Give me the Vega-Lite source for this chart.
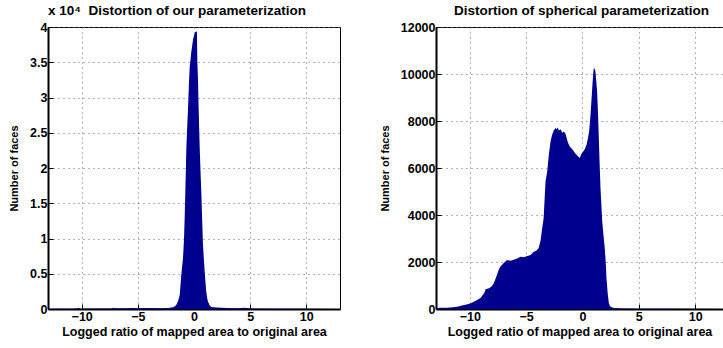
{
  "$schema": "https://vega.github.io/schema/vega-lite/v6.json",
  "background": "white",
  "padding": {"left": 8, "top": 3, "right": 0, "bottom": 4},
  "datasets": {
    "ours": [
      {"x": -13, "count": 20}, {"x": -12, "count": 30}, {"x": -11, "count": 40}, {"x": -10.4, "count": 60},
      {"x": -10.3, "count": 170}, {"x": -10.1, "count": 50}, {"x": -9, "count": 80}, {"x": -8, "count": 60},
      {"x": -7.3, "count": 80}, {"x": -7.2, "count": 170}, {"x": -7, "count": 100}, {"x": -6, "count": 90},
      {"x": -5.5, "count": 140}, {"x": -5, "count": 90}, {"x": -4, "count": 130}, {"x": -3, "count": 110},
      {"x": -2.3, "count": 150}, {"x": -2, "count": 200}, {"x": -1.86, "count": 250}, {"x": -1.7, "count": 400},
      {"x": -1.57, "count": 600}, {"x": -1.4, "count": 1200}, {"x": -1.27, "count": 2030}, {"x": -1.13, "count": 4860},
      {"x": -0.98, "count": 7230}, {"x": -0.9, "count": 9500}, {"x": -0.83, "count": 12900}, {"x": -0.75, "count": 18000},
      {"x": -0.68, "count": 22800}, {"x": -0.6, "count": 26000}, {"x": -0.53, "count": 28500}, {"x": -0.45, "count": 32000},
      {"x": -0.38, "count": 34400}, {"x": -0.3, "count": 35500}, {"x": -0.24, "count": 36500}, {"x": -0.15, "count": 37500},
      {"x": -0.09, "count": 38200}, {"x": 0.0, "count": 38800}, {"x": 0.06, "count": 39100}, {"x": 0.13, "count": 39300},
      {"x": 0.2, "count": 39400}, {"x": 0.26, "count": 39300}, {"x": 0.3, "count": 35000}, {"x": 0.35, "count": 32800},
      {"x": 0.42, "count": 28000}, {"x": 0.5, "count": 23300}, {"x": 0.58, "count": 19500}, {"x": 0.65, "count": 16700},
      {"x": 0.72, "count": 13000}, {"x": 0.8, "count": 9100}, {"x": 0.88, "count": 7000}, {"x": 0.95, "count": 5350},
      {"x": 1.02, "count": 3800}, {"x": 1.09, "count": 2500}, {"x": 1.17, "count": 1600}, {"x": 1.24, "count": 1050},
      {"x": 1.4, "count": 500}, {"x": 1.54, "count": 300}, {"x": 2, "count": 200}, {"x": 3, "count": 150},
      {"x": 4, "count": 120}, {"x": 4.5, "count": 180}, {"x": 5, "count": 80}, {"x": 7, "count": 50},
      {"x": 10, "count": 30}, {"x": 13, "count": 10}
    ],
    "sph": [
      {"x": -13, "count": 40}, {"x": -12.5, "count": 50}, {"x": -12, "count": 55}, {"x": -11.5, "count": 70},
      {"x": -11, "count": 110}, {"x": -10.7, "count": 150}, {"x": -10.3, "count": 190}, {"x": -9.9, "count": 240},
      {"x": -9.6, "count": 320}, {"x": -9.35, "count": 380}, {"x": -9.05, "count": 470}, {"x": -8.9, "count": 560},
      {"x": -8.7, "count": 700}, {"x": -8.6, "count": 840}, {"x": -8.3, "count": 880}, {"x": -8.1, "count": 950},
      {"x": -7.9, "count": 1060}, {"x": -7.75, "count": 1250}, {"x": -7.6, "count": 1440}, {"x": -7.45, "count": 1650},
      {"x": -7.3, "count": 1800}, {"x": -7.0, "count": 1950}, {"x": -6.7, "count": 2080}, {"x": -6.4, "count": 2050},
      {"x": -6.1, "count": 2100}, {"x": -5.8, "count": 2150}, {"x": -5.5, "count": 2220}, {"x": -5.2, "count": 2200},
      {"x": -4.9, "count": 2260}, {"x": -4.6, "count": 2300}, {"x": -4.35, "count": 2430}, {"x": -4.1, "count": 2480},
      {"x": -3.9, "count": 2580}, {"x": -3.73, "count": 2880}, {"x": -3.58, "count": 3430}, {"x": -3.45, "count": 3850},
      {"x": -3.28, "count": 5430}, {"x": -3.13, "count": 5850}, {"x": -3.0, "count": 6500}, {"x": -2.84, "count": 7120},
      {"x": -2.7, "count": 7400}, {"x": -2.55, "count": 7600}, {"x": -2.4, "count": 7700}, {"x": -2.31, "count": 7650},
      {"x": -2.2, "count": 7720}, {"x": -2.1, "count": 7600}, {"x": -1.95, "count": 7650}, {"x": -1.8, "count": 7500},
      {"x": -1.65, "count": 7550}, {"x": -1.51, "count": 7460}, {"x": -1.3, "count": 7100}, {"x": -1.12, "count": 6900},
      {"x": -0.9, "count": 6800}, {"x": -0.62, "count": 6610}, {"x": -0.4, "count": 6500}, {"x": -0.24, "count": 6430},
      {"x": -0.1, "count": 6600}, {"x": 0.05, "count": 6690}, {"x": 0.2, "count": 6800}, {"x": 0.35, "count": 6970},
      {"x": 0.5, "count": 7300}, {"x": 0.6, "count": 7600}, {"x": 0.71, "count": 8240}, {"x": 0.8, "count": 8900},
      {"x": 0.86, "count": 9370}, {"x": 0.95, "count": 10000}, {"x": 1.0, "count": 10250}, {"x": 1.1, "count": 10200},
      {"x": 1.15, "count": 10100}, {"x": 1.22, "count": 9700}, {"x": 1.3, "count": 9230}, {"x": 1.38, "count": 8300},
      {"x": 1.45, "count": 7250}, {"x": 1.52, "count": 6200}, {"x": 1.6, "count": 5130}, {"x": 1.68, "count": 4400},
      {"x": 1.75, "count": 3730}, {"x": 1.85, "count": 3200}, {"x": 1.95, "count": 2730}, {"x": 2.05, "count": 2100},
      {"x": 2.13, "count": 1310}, {"x": 2.23, "count": 700}, {"x": 2.34, "count": 250}, {"x": 2.45, "count": 120},
      {"x": 2.6, "count": 70}, {"x": 2.8, "count": 40}, {"x": 3.5, "count": 25}, {"x": 5, "count": 15},
      {"x": 8, "count": 10}, {"x": 12.47, "count": 5}
    ]
  },
  "hconcat": [
    {
      "width": 292,
      "height": 282,
      "title": {"text": "x 10⁴\u00a0 Distortion of our parameterization", "anchor": "start", "frame": "group"},
      "data": {"name": "ours"},
      "mark": {"type": "area", "color": "#00008F", "interpolate": "linear", "clip": true},
      "encoding": {
        "x": {"field": "x", "type": "quantitative",
          "scale": {"domain": [-13, 13], "nice": false, "zero": false},
          "axis": {"values": [-10, -5, 0, 5, 10], "title": "Logged ratio of mapped area to original area"}},
        "y": {"field": "count", "type": "quantitative",
          "scale": {"domain": [0, 40000], "nice": false},
          "axis": {"values": [0, 5000, 10000, 15000, 20000, 25000, 30000, 35000, 40000],
            "labelExpr": "format(datum.value / 10000, '~g')", "title": "Number of faces"}}
      }
    },
    {
      "width": 287,
      "height": 282,
      "title": {"text": "Distortion of spherical parameterization", "dx": 2},
      "data": {"name": "sph"},
      "mark": {"type": "area", "color": "#00008F", "interpolate": "linear", "clip": true},
      "encoding": {
        "x": {"field": "x", "type": "quantitative",
          "scale": {"domain": [-13, 12.47], "nice": false, "zero": false},
          "axis": {"values": [-10, -5, 0, 5, 10], "title": "Logged ratio of mapped area to original area"}},
        "y": {"field": "count", "type": "quantitative",
          "scale": {"domain": [0, 12000], "nice": false},
          "axis": {"values": [0, 2000, 4000, 6000, 8000, 10000, 12000], "format": "d", "title": "Number of faces"}}
      }
    }
  ],
  "config": {
    "view": {"stroke": "black", "strokeWidth": 1},
    "concat": {"spacing": 37},
    "title": {"font": "Liberation Sans", "fontSize": 13.5, "fontWeight": "bold", "color": "black", "offset": 4},
    "axis": {
      "labelFont": "Liberation Sans", "labelFontSize": 12.5, "labelFontWeight": "bold", "labelColor": "black",
      "labelOverlap": false,
      "titleFont": "Liberation Sans", "titleFontWeight": "bold", "titleColor": "black",
      "domainColor": "black", "domainWidth": 2,
      "tickColor": "black", "tickSize": -5, "tickWidth": 1,
      "labelPadding": 6,
      "grid": true, "gridColor": "#666", "gridDash": [1, 4], "gridWidth": 1
    },
    "axisX": {"titleFontSize": 12.5, "titlePadding": 3},
    "axisY": {"titleFontSize": 11, "titlePadding": 10}
  }
}
